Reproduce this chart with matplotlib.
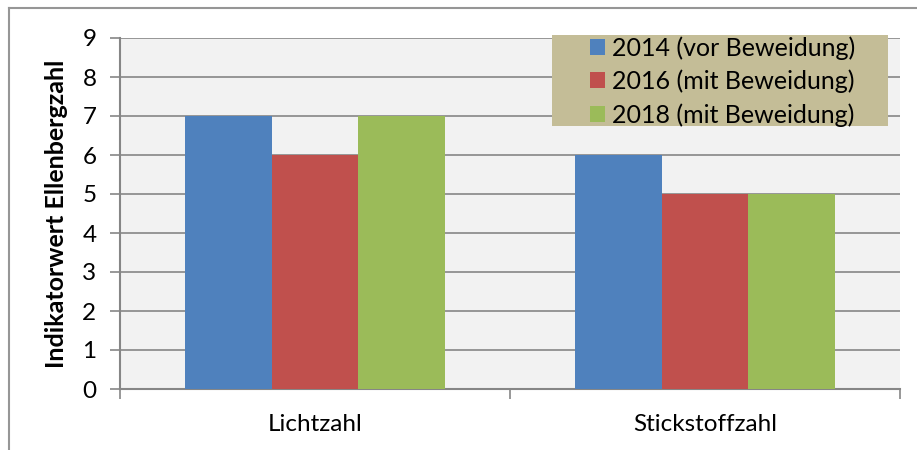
import numpy as np
import matplotlib.pyplot as plt
from matplotlib.lines import Line2D
from matplotlib.patches import Rectangle

plt.rcParams['font.family'] = ['Lato', 'DejaVu Sans']

categories = ['Lichtzahl', 'Stickstoffzahl']
series_names = ['2014 (vor Beweidung)', '2016 (mit Beweidung)', '2018 (mit Beweidung)']
values_2014 = [7, 6]
values_2016 = [6, 5]
values_2018 = [7, 5]
colors = ['#4F81BD', '#C0504D', '#9BBB59']

W, H = 917, 450
fig = plt.figure(figsize=(W / 100, H / 100), dpi=100)
ax = fig.add_axes([120 / W, 1 - 389 / H, 780 / W, 351 / H])
ax.set_facecolor('#F2F2F2')

x = np.arange(len(categories))
w = 1 / 4.5
for i, (vals, name, c) in enumerate(zip([values_2014, values_2016, values_2018], series_names, colors)):
    ax.bar(x + (i - 1) * w, vals, width=w, color=c, label=name, zorder=3)

ax.set_xlim(-0.5, 1.5)
ax.set_ylim(0, 9)
ax.set_yticks(range(10))
ax.yaxis.grid(True, color='#868686', linewidth=1.2, zorder=0)
ax.set_xticks([-0.5, 0.5, 1.5])
ax.set_xticklabels([])
ax.set_xticks(x, minor=True)
ax.set_xticklabels(categories, minor=True)
ax.tick_params(axis='x', which='minor', length=0, pad=18, labelsize=17.5)
ax.tick_params(axis='x', which='major', length=7, width=1.2, color='#868686', direction='out')
ax.tick_params(axis='y', length=7, width=1.2, color='#868686', direction='out', labelsize=17.5, pad=10)

for s in ['top', 'right']:
    ax.spines[s].set_visible(False)
for s in ['left', 'bottom']:
    ax.spines[s].set_color('#868686')
    ax.spines[s].set_linewidth(1.5)

ax.set_ylabel('Indikatorwert Ellenbergzahl', fontsize=18, fontweight='bold', labelpad=10)

# legend background box (Excel style fixed box)
ax.add_patch(Rectangle((552 / W, 1 - 126 / H), 336 / W, 91 / H, transform=fig.transFigure,
                       facecolor='#C4BD97', edgecolor='none', zorder=4, clip_on=False))
leg = ax.legend(loc='upper left', bbox_to_anchor=(590 / W, 1 - 36 / H), bbox_transform=fig.transFigure,
                fontsize=18, frameon=False, handlelength=0.6, handleheight=0.6,
                handletextpad=0.3, labelspacing=0.4, borderpad=0, borderaxespad=0)
leg.set_zorder(5)

# outer chart border
fig.add_artist(Line2D([9 / W, 9 / W], [0, 1 - 8 / H], transform=fig.transFigure, color='#969696', linewidth=1.5))
fig.add_artist(Line2D([9 / W, 1], [1 - 8 / H, 1 - 8 / H], transform=fig.transFigure, color='#969696', linewidth=1.5))

fig.savefig('out.png', dpi=100)
